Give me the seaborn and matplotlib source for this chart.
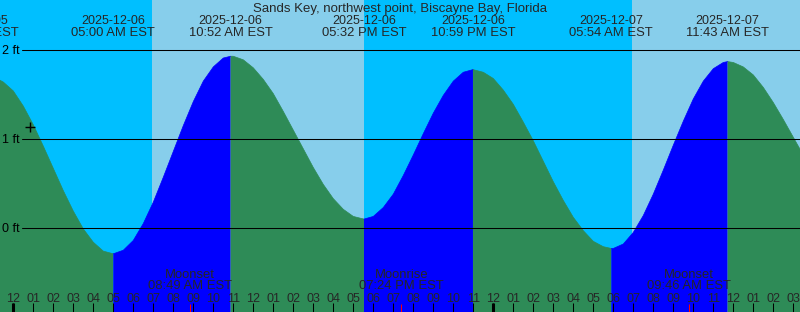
import numpy as np
import pandas as pd
import matplotlib
matplotlib.use("Agg")
import matplotlib.pyplot as plt
import matplotlib.transforms as mtransforms
import seaborn as sns

# ---------------- data (hours since 2025-12-06 00:00 EST, levels in ft) ----------------
TITLE = "Sands Key, northwest point, Biscayne Bay, Florida"

extreme_hours = [-1.84, 5.00, 10.867, 17.533, 22.983, 29.90, 35.717]
extreme_levels = [1.74, -0.29, 1.93, 0.10, 1.78, -0.23, 1.87]
extreme_dates = ["2025-12-05", "2025-12-06", "2025-12-06", "2025-12-06",
                 "2025-12-06", "2025-12-07", "2025-12-07"]
extreme_times = ["10:10 PM EST", "05:00 AM EST", "10:52 AM EST", "05:32 PM EST",
                 "10:59 PM EST", "05:54 AM EST", "11:43 AM EST"]

series_hours = [-1.84, -1.5, -1.0, -0.5, 0.0, 0.5, 1.0, 1.5, 2.0, 2.5, 3.0, 3.5, 4.0, 4.5,
                5.0, 5.5, 6.0, 6.5, 7.0, 7.5, 8.0, 8.5, 9.0, 9.5, 10.0, 10.5, 10.867,
                11.0, 11.5, 12.0, 12.5, 13.0, 13.5, 14.0, 14.5, 15.0, 15.5, 16.0, 16.5, 17.0,
                17.533, 18.0, 18.5, 19.0, 19.5, 20.0, 20.5, 21.0, 21.5, 22.0, 22.5, 22.983,
                23.5, 24.0, 24.5, 25.0, 25.5, 26.0, 26.5, 27.0, 27.5, 28.0, 28.5, 29.0, 29.5,
                29.90, 30.0, 30.5, 31.0, 31.5, 32.0, 32.5, 33.0, 33.5, 34.0, 34.5, 35.0, 35.5,
                35.717, 36.0, 36.5, 37.0, 37.5, 38.0, 38.5, 39.0, 39.5]
series_levels = [1.74, 1.73, 1.70, 1.64, 1.54, 1.37, 1.16, 0.92, 0.67, 0.42, 0.19, -0.01, -0.16, -0.26,
                 -0.29, -0.25, -0.14, 0.05, 0.29, 0.57, 0.86, 1.15, 1.42, 1.65, 1.81, 1.91, 1.93,
                 1.93, 1.89, 1.80, 1.67, 1.51, 1.31, 1.10, 0.89, 0.68, 0.49, 0.33, 0.21, 0.13,
                 0.10, 0.13, 0.23, 0.38, 0.59, 0.82, 1.06, 1.29, 1.49, 1.65, 1.75, 1.78,
                 1.75, 1.68, 1.55, 1.39, 1.19, 0.98, 0.75, 0.52, 0.31, 0.12, -0.03, -0.15, -0.21,
                 -0.23, -0.23, -0.18, -0.05, 0.14, 0.38, 0.65, 0.93, 1.20, 1.45, 1.65, 1.79, 1.86,
                 1.87, 1.86, 1.81, 1.72, 1.58, 1.41, 1.22, 1.02, 0.82]

daylight_start = [6.93, 30.92]
daylight_end = [17.52, 41.53]

moon_hours = [8.817, 19.40, 33.767]
moon_names = ["Moonset", "Moonrise", "Moonset"]
moon_times = ["08:49 AM EST", "07:24 PM EST", "09:46 AM EST"]

tick_hours = list(range(0, 40))
tick_labels = ["12", "01", "02", "03", "04", "05", "06", "07", "08", "09", "10", "11",
               "12", "01", "02", "03", "04", "05", "06", "07", "08", "09", "10", "11",
               "12", "01", "02", "03", "04", "05", "06", "07", "08", "09", "10", "11",
               "12", "01", "02", "03"]
midnight_hours = [0, 24]

gridlines_ft = [0, 1, 2]
gridline_labels = ["0 ft", "1 ft", "2 ft"]

now_hour = [0.85]
now_level = [1.13]

# ---------------- styling ----------------
NIGHT = "#00BFFF"
DAY = "#87CEEB"
RISING = "#0000FF"
FALLING = "#2E8B57"

sns.set_style("white")
plt.rcParams["font.family"] = ["Liberation Sans", "DejaVu Sans"]

W, H = 800, 312
fig = plt.figure(figsize=(W / 100, H / 100), dpi=100, facecolor=NIGHT)
ax = fig.add_axes([0, 0, 1, 1])

# daylight background
for s, e in zip(daylight_start, daylight_end):
    ax.axvspan(s, e, color=DAY, lw=0, zorder=0)

# build tide segments (rising / falling)
df = pd.DataFrame({"hour": series_hours, "level": series_levels})
bounds = extreme_hours + [df["hour"].max()]
parts = []
for i in range(len(extreme_hours)):
    lo, hi = bounds[i], bounds[i + 1]
    part = df[(df["hour"] >= lo) & (df["hour"] <= hi)].copy()
    if len(part) < 2:
        continue
    rising = part["level"].iloc[-1] > part["level"].iloc[0]
    part["phase"] = "rising" if rising else "falling"
    part["segment"] = i
    parts.append(part)
curve = pd.concat(parts, ignore_index=True)

palette = {"rising": RISING, "falling": FALLING}
for seg, part in curve.groupby("segment"):
    ax.fill_between(part["hour"], -2, part["level"], color=palette[part["phase"].iloc[0]],
                    lw=0, zorder=1)
sns.lineplot(data=curve, x="hour", y="level", hue="phase", units="segment",
             estimator=None, palette=palette, lw=0.5, legend=False, ax=ax, zorder=1.5)
ax.set_xlim(-0.665, 39.335)
ax.set_ylim(-0.944, 2.562)
ax.axis("off")

# reference lines and labels
lab_tr = mtransforms.offset_copy(
    mtransforms.blended_transform_factory(ax.transAxes, ax.transData), fig=fig, y=-4, units="dots")
for lvl, lab in zip(gridlines_ft, gridline_labels):
    ax.axhline(lvl, xmin=22 / W, xmax=1, color="black", lw=0.75, zorder=2)
    ax.text(2 / W, lvl, lab, transform=lab_tr, ha="left", va="baseline", fontsize=9,
            color="black", zorder=3)

xt = ax.get_xaxis_transform()
FS = 9
FS_T = 9.4

# tide event labels
for h, d, t in zip(extreme_hours, extreme_dates, extreme_times):
    ax.text(h, 1 - 24 / H, d, transform=xt, ha="center", va="baseline", fontsize=FS, zorder=3,
            clip_on=False)
    ax.text(h, 1 - 36 / H, t, transform=xt, ha="center", va="baseline", fontsize=FS_T, zorder=3,
            clip_on=False)

# moon labels
for h, n, t in zip(moon_hours, moon_names, moon_times):
    ax.text(h, 1 - 277.7 / H, n, transform=xt, ha="center", va="baseline", fontsize=FS_T, zorder=3)
    ax.text(h, 1 - 289 / H, t, transform=xt, ha="center", va="baseline", fontsize=FS_T, zorder=3)

# hour ticks and labels
ax.vlines(tick_hours, 0, 9 / H, transform=xt, color="black", lw=0.75, zorder=3)
ax.vlines(midnight_hours, 0, 9 / H, transform=xt, color="black", lw=2.2, zorder=3)
ax.vlines(moon_hours, 0, 8 / H, transform=xt, color="red", lw=0.75, zorder=3)
for h, lab in zip(tick_hours, tick_labels):
    ax.text(h, 1 - 301.7 / H, lab, transform=xt, ha="center", va="baseline", fontsize=FS,
            zorder=3)

# current-time marker
ax.plot(now_hour, now_level, marker="+", ms=6.5, mew=1.0, color="black", ls="none", zorder=3)

fig.text(0.5, 1 - 12.3 / H, TITLE, ha="center", va="baseline", fontsize=9.5)

fig.savefig("out.png", dpi=100, facecolor=fig.get_facecolor())
